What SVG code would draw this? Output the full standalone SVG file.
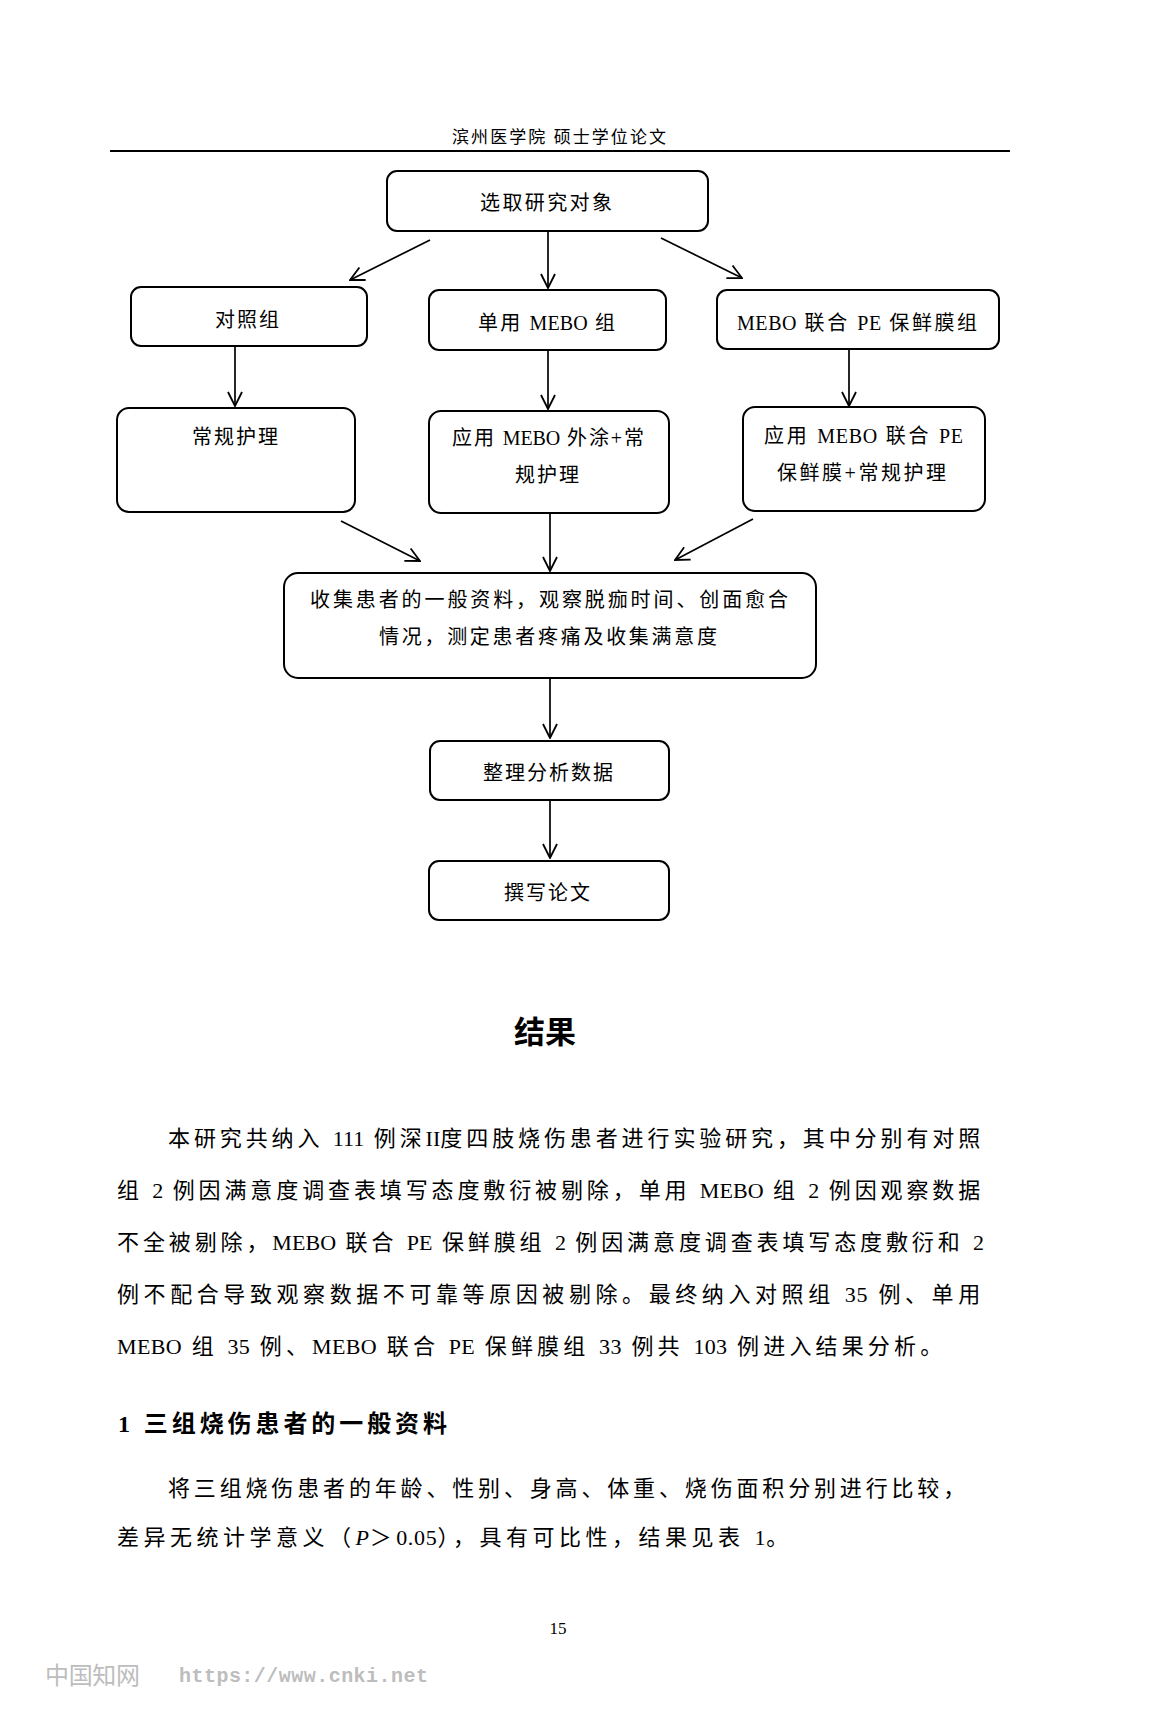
<svg xmlns="http://www.w3.org/2000/svg" width="1174" height="1724" viewBox="0 0 1174 1724">
<style>
.bg{fill:#fff}
.box{fill:#fff;stroke:#000;stroke-width:2}
.t{font-family:"Liberation Serif","Noto Sans CJK SC",serif;font-size:20px;fill:#000;letter-spacing:2px}
.hd{font-family:"Liberation Serif","Noto Sans CJK SC",serif;font-size:17px;fill:#000}
.body{font-family:"Liberation Serif","Noto Sans CJK SC",serif;font-size:22px;fill:#000;letter-spacing:3.8px}
.l{letter-spacing:0px}
.h1{font-family:"Noto Sans CJK SC","Liberation Sans",sans-serif;font-weight:700;font-size:31px;fill:#000}
.h2{font-family:"Liberation Serif","Noto Sans CJK SC",serif;font-weight:700;font-size:24px;fill:#000}
.con{stroke:#000;stroke-width:1.7;fill:none}
.wm{fill:#bdbdbd}
</style>
<defs>
<marker id="ah" viewBox="-15 -8 16 16" refX="0" refY="0" markerWidth="16" markerHeight="16" orient="auto" markerUnits="userSpaceOnUse">
<path d="M-14,-7 L0,0 L-14,7" fill="none" stroke="#000" stroke-width="1.8"/>
</marker>
</defs>
<rect class="bg" x="0" y="0" width="1174" height="1724"/>

<g id="header">
<text class="hd" x="452" y="143" textLength="214" lengthAdjust="spacing">滨州医学院 硕士学位论文</text>
<line x1="110" y1="151" x2="1010" y2="151" stroke="#000" stroke-width="2"/>
</g>

<g id="connectors">
<line class="con" x1="430" y1="240" x2="350" y2="280" marker-end="url(#ah)"/>
<line class="con" x1="548" y1="232" x2="548" y2="288" marker-end="url(#ah)"/>
<line class="con" x1="661" y1="238" x2="742" y2="278" marker-end="url(#ah)"/>
<line class="con" x1="235" y1="347" x2="235" y2="406" marker-end="url(#ah)"/>
<line class="con" x1="548" y1="351" x2="548" y2="409" marker-end="url(#ah)"/>
<line class="con" x1="849" y1="350" x2="849" y2="406" marker-end="url(#ah)"/>
<line class="con" x1="341" y1="521" x2="420" y2="561" marker-end="url(#ah)"/>
<line class="con" x1="550" y1="514" x2="550" y2="571" marker-end="url(#ah)"/>
<line class="con" x1="753" y1="519" x2="675" y2="560" marker-end="url(#ah)"/>
<line class="con" x1="550" y1="679" x2="550" y2="738" marker-end="url(#ah)"/>
<line class="con" x1="550" y1="801" x2="550" y2="858" marker-end="url(#ah)"/>
</g>

<g id="n-select">
<rect class="box" x="387" y="171" width="321" height="60" rx="10"/>
<text class="t" x="480" y="210" textLength="134" lengthAdjust="spacing">选取研究对象</text>
</g>
<g id="n-control">
<rect class="box" x="131" y="287" width="236" height="59" rx="10"/>
<text class="t" x="215" y="327" textLength="66" lengthAdjust="spacing">对照组</text>
</g>
<g id="n-mebo">
<rect class="box" x="429" y="290" width="237" height="60" rx="10"/>
<text class="t" x="478" y="330" textLength="139" lengthAdjust="spacing">单用 <tspan class="l">MEBO</tspan> 组</text>
</g>
<g id="n-mebo-pe">
<rect class="box" x="717" y="290" width="282" height="59" rx="10"/>
<text class="t" x="737" y="330" textLength="242" lengthAdjust="spacing"><tspan class="l">MEBO</tspan> 联合 <tspan class="l">PE</tspan> 保鲜膜组</text>
</g>
<g id="n-routine">
<rect class="box" x="117" y="408" width="238" height="104" rx="12"/>
<text class="t" x="192" y="444" textLength="88" lengthAdjust="spacing">常规护理</text>
</g>
<g id="n-mebo-routine">
<rect class="box" x="429" y="411" width="240" height="102" rx="12"/>
<text class="t" x="452" y="445" textLength="194" lengthAdjust="spacing">应用 <tspan class="l">MEBO</tspan> 外涂+常</text>
<text class="t" x="515" y="482" textLength="66" lengthAdjust="spacing">规护理</text>
</g>
<g id="n-mebo-pe-routine">
<rect class="box" x="743" y="407" width="242" height="104" rx="12"/>
<text class="t" x="764" y="443" textLength="199" lengthAdjust="spacing">应用 <tspan class="l">MEBO</tspan> 联合 <tspan class="l">PE</tspan></text>
<text class="t" x="777" y="480" textLength="171" lengthAdjust="spacing">保鲜膜+常规护理</text>
</g>
<g id="n-collect">
<rect class="box" x="284" y="573" width="532" height="105" rx="14"/>
<text class="t" x="310" y="607" textLength="480" lengthAdjust="spacing">收集患者的一般资料，观察脱痂时间、创面愈合</text>
<text class="t" x="379" y="644" textLength="340" lengthAdjust="spacing">情况，测定患者疼痛及收集满意度</text>
</g>
<g id="n-analyze">
<rect class="box" x="430" y="741" width="239" height="59" rx="10"/>
<text class="t" x="483" y="780" textLength="132" lengthAdjust="spacing">整理分析数据</text>
</g>
<g id="n-write">
<rect class="box" x="429" y="861" width="240" height="59" rx="10"/>
<text class="t" x="504" y="900" textLength="88" lengthAdjust="spacing">撰写论文</text>
</g>

<g id="results-text">
<text class="h1" x="545" y="1043" text-anchor="middle">结果</text>
<text class="body" x="168" y="1146" textLength="816" lengthAdjust="spacing">本研究共纳入 <tspan class="l">111</tspan> 例深<tspan class="l">II</tspan>度四肢烧伤患者进行实验研究，其中分别有对照</text>
<text class="body" x="117" y="1198" textLength="867" lengthAdjust="spacing">组 <tspan class="l">2</tspan> 例因满意度调查表填写态度敷衍被剔除，单用 <tspan class="l">MEBO</tspan> 组 <tspan class="l">2</tspan> 例因观察数据</text>
<text class="body" x="117" y="1250" textLength="867" lengthAdjust="spacing">不全被剔除，<tspan class="l">MEBO</tspan> 联合 <tspan class="l">PE</tspan> 保鲜膜组 <tspan class="l">2</tspan> 例因满意度调查表填写态度敷衍和 <tspan class="l">2</tspan></text>
<text class="body" x="117" y="1302" textLength="867" lengthAdjust="spacing">例不配合导致观察数据不可靠等原因被剔除。最终纳入对照组 <tspan class="l">35</tspan> 例、单用</text>
<text class="body" x="117" y="1354" textLength="829" lengthAdjust="spacing"><tspan class="l">MEBO</tspan> 组 <tspan class="l">35</tspan> 例、<tspan class="l">MEBO</tspan> 联合 <tspan class="l">PE</tspan> 保鲜膜组 <tspan class="l">33</tspan> 例共 <tspan class="l">103</tspan> 例进入结果分析。</text>
<text class="h2" x="118" y="1432" textLength="329" lengthAdjust="spacing">1 三组烧伤患者的一般资料</text>
<text class="body" x="168" y="1496" textLength="801" lengthAdjust="spacing">将三组烧伤患者的年龄、性别、身高、体重、烧伤面积分别进行比较，</text>
<text class="body" x="117" y="1545" textLength="675" lengthAdjust="spacing">差异无统计学意义（<tspan class="l" font-style="italic">P</tspan>＞<tspan class="l">0.05</tspan>），具有可比性，结果见表 <tspan class="l">1</tspan>。</text>
<text x="558" y="1634" text-anchor="middle" font-family="Liberation Serif,serif" font-size="17" fill="#000">15</text>
</g>

<g id="watermark">
<text class="wm" x="45" y="1684" font-family="Noto Sans CJK SC,sans-serif" font-size="24" textLength="95" lengthAdjust="spacing">中国知网</text>
<text class="wm" x="179" y="1682" font-family="Liberation Mono,monospace" font-weight="700" font-size="20" textLength="249" lengthAdjust="spacing">https://www.cnki.net</text>
</g>
</svg>
